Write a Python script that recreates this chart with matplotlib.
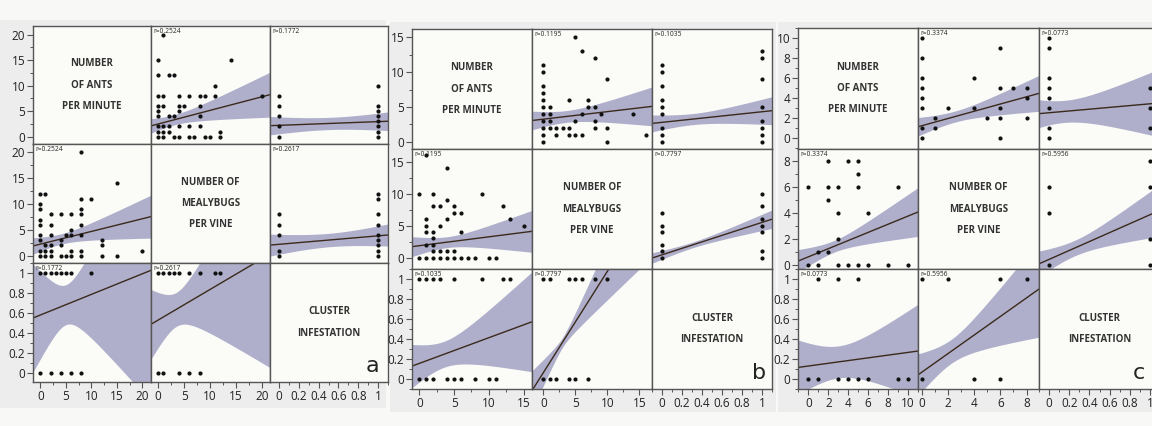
import numpy as np
import matplotlib.pyplot as plt
from matplotlib.patches import Rectangle
from matplotlib.ticker import MultipleLocator

W, H = 1152, 426

# ---------------- data ----------------
names = ["NUMBER\nOF ANTS\nPER MINUTE", "NUMBER OF\nMEALYBUGS\nPER VINE", "CLUSTER\nINFESTATION"]

# panel a
ants_a = [0, 1, 0, 0, 2, 4, 6, 8, 0, 0, 2, 8, 6, 0, 2, 5, 6, 8, 0, 4, 12, 1, 2, 4, 12,
          0, 1, 2, 6, 8, 20, 0, 1, 2, 4, 5, 6, 8, 12, 15, 8, 10, 8, 8, 15]
mealy_a = [12, 12, 10, 9, 8, 8, 8, 8, 7, 6, 6, 6, 5, 4, 4, 4, 4, 4, 3, 3, 3, 2, 2, 2, 2,
           1, 1, 1, 1, 1, 1, 0, 0, 0, 0, 0, 0, 0, 0, 0, 11, 11, 9, 20, 14]
ants_cl_a = [0, 1, 2, 3, 4, 5, 6, 10, 0, 2, 4, 6, 8]
clu_ants_a = [1, 1, 1, 1, 1, 1, 1, 1, 0, 0, 0, 0, 0]
mealy_cl_a = [0, 1, 2, 3, 4, 6, 8, 11, 12, 0, 1, 4, 6, 8]
clu_mealy_a = [1, 1, 1, 1, 1, 1, 1, 1, 1, 0, 0, 0, 0, 0]
r_a = {(0, 1): "0.2524", (0, 2): "0.1772", (1, 2): "0.2617"}
# fit per cell: intercept, slope, band centre, band half-width at centre, band growth
fit_a = {(0, 1): (2.48, 0.266, 3.0, 1.0, 0.231),
         (0, 2): (2.21, 0.73, 0.5, 1.2, 2.3),
         (1, 0): (2.25, 0.245, 4.0, 1.0, 0.228),
         (1, 2): (2.21, 1.64, 0.5, 1.3, 2.84),
         (2, 0): (0.58, 0.0206, 5.0, 0.2, 0.078),
         (2, 1): (0.53, 0.0305, 3.5, 0.17, 0.062)}

# panel b
ants_b = [1, 4, 0, 2, 9, 4, 2, 3, 5, 12, 5, 6, 1, 4, 13, 1, 3, 15, 1, 2, 6, 2, 1, 2,
          2, 3, 4, 5, 0, 1, 2, 3, 4, 5, 6, 7, 8, 10, 11]
mealy_b = [16, 14, 10, 10, 10, 9, 8, 8, 8, 8, 7, 7, 6, 6, 6, 5, 5, 5, 4, 4, 4, 3, 2, 2,
           1, 1, 1, 1, 0, 0, 0, 0, 0, 0, 0, 0, 0, 0, 0]
ants_cl_b = [0, 1, 2, 3, 5, 9, 12, 13, 0, 1, 2, 4, 5, 6, 8, 10, 11]
clu_ants_b = [1, 1, 1, 1, 1, 1, 1, 1, 0, 0, 0, 0, 0, 0, 0, 0, 0]
mealy_cl_b = [0, 1, 4, 5, 6, 8, 10, 0, 1, 2, 4, 5, 7]
clu_mealy_b = [1, 1, 1, 1, 1, 1, 1, 0, 0, 0, 0, 0, 0]
r_b = {(0, 1): "0.1195", (0, 2): "0.1035", (1, 2): "0.7797"}
fit_b = {(0, 1): (3.24, 0.108, 3.5, 0.85, 0.197),
         (0, 2): (2.78, 1.525, 0.3, 0.8, 2.3),
         (1, 0): (1.85, 0.139, 4.0, 0.85, 0.26),
         (1, 2): (0.42, 5.08, 0.3, 0.45, 1.71),
         (2, 0): (0.156, 0.0257, 3.5, 0.13, 0.038),
         (2, 1): (0.066, 0.101, 3.0, 0.05, 0.04)}

# panel c
ants_c = [0, 2, 2, 2, 3, 3, 4, 5, 5, 5, 6, 9, 3, 1, 2, 0, 1, 3, 4, 5, 6, 8, 10]
mealy_c = [6, 8, 6, 5, 6, 4, 8, 8, 7, 6, 4, 6, 2, 1, 1, 0, 0, 0, 0, 0, 0, 0, 0]
ants_cl_c = [1, 3, 5, 0, 1, 3, 4, 5, 6, 9, 10]
clu_ants_c = [1, 1, 1, 0, 0, 0, 0, 0, 0, 0, 0]
mealy_cl_c = [0, 2, 6, 8, 0, 4, 6]
clu_mealy_c = [1, 1, 1, 1, 0, 0, 0]
r_c = {(0, 1): "0.3374", (0, 2): "0.0773", (1, 2): "0.5956"}
fit_c = {(0, 1): (1.27, 0.36, 2.5, 0.55, 0.264),
         (0, 2): (2.56, 0.89, 0.15, 1.1, 3.4),
         (1, 0): (0.64, 0.314, 2.5, 0.45, 0.215),
         (1, 2): (0.44, 3.44, 0.25, 0.6, 2.24),
         (2, 0): (0.13, 0.0136, 3.0, 0.16, 0.055),
         (2, 1): (0.069, 0.0928, 2.2, 0.12, 0.069)}

panels = [
    dict(letter="a", ants=ants_a, mealy=mealy_a, ca=(ants_cl_a, clu_ants_a), cm=(mealy_cl_a, clu_mealy_a),
         r=r_a, fit=fit_a, lims=[(-1.45, 21.7), (-1.4, 21.6), (-0.09, 1.1)],
         ticks=[(5, 2.5), (5, 2.5), (0.2, 0.1)], lx=0.93,
         xs=[33, 151, 270, 388], ys=[26, 144, 263, 382], bg=(0, 20, 386, 408)),
    dict(letter="b", ants=ants_b, mealy=mealy_b, ca=(ants_cl_b, clu_ants_b), cm=(mealy_cl_b, clu_mealy_b),
         r=r_b, fit=fit_b, lims=[(-1.05, 16.2), (-1.8, 17.0), (-0.1, 1.1)],
         ticks=[(5, 2.5), (5, 2.5), (0.2, 0.1)], lx=0.95,
         xs=[412, 532, 652, 772], ys=[29, 149, 269, 389], bg=(390, 22, 776, 412)),
    dict(letter="c", ants=ants_c, mealy=mealy_c, ca=(ants_cl_c, clu_ants_c), cm=(mealy_cl_c, clu_mealy_c),
         r=r_c, fit=fit_c, lims=[(-1.05, 11.0), (-0.3, 8.95), (-0.1, 1.1)],
         ticks=[(2, 1), (2, 1), (0.2, 0.1)], lx=0.88,
         xs=[798, 918, 1039, 1160], ys=[28, 149, 269, 389], bg=(778, 22, 1152, 412)),
]

band_col = "#afafcb"
line_col = "#3b2a1c"
cell_col = "#fbfbf8"
edge_col = "#555555"

plt.rcParams['font.family'] = ['Open Sans', 'DejaVu Sans']
fig = plt.figure(figsize=(W / 100, H / 100), dpi=100, facecolor="#f8f8f6")


def pair(p, i, j):
    # returns x (var j) and y (var i) for a cell
    if {i, j} == {0, 1}:
        v = {0: p["ants"], 1: p["mealy"]}
        return v[j], v[i]
    other, clu = p["ca"] if 0 in (i, j) else p["cm"]
    return (clu, other) if j == 2 else (other, clu)


def fmt(v):
    v = round(float(v), 6)
    if v == int(v):
        return str(int(v))
    return f"{v:.1f}"


for p in panels:
    x0, y0, x1, y1 = p["bg"]
    fig.patches.append(Rectangle((x0 / W, 1 - y1 / H), (x1 - x0) / W, (y1 - y0) / H,
                                 transform=fig.transFigure, facecolor="#ededed",
                                 edgecolor="none", zorder=-5))
    xs, ys = p["xs"], p["ys"]
    for i in range(3):
        for j in range(3):
            l, r_ = xs[j], xs[j + 1]
            t, b = ys[i], ys[i + 1]
            ax = fig.add_axes([l / W, 1 - b / H, (r_ - l) / W, (b - t) / H])
            ax.set_facecolor(cell_col)
            for s in ax.spines.values():
                s.set_color(edge_col)
                s.set_linewidth(1.0)
            ax.tick_params(length=0, labelbottom=False, labelleft=False)
            if i == j:
                ax.text(0.5, 0.5, names[i], transform=ax.transAxes, ha="center", va="center",
                        fontsize=7, fontweight="bold", color="#333333", linespacing=2.3)
                if i == 2:
                    ax.text(p["lx"], 0.05, p["letter"], transform=ax.transAxes, ha="right",
                            va="bottom", fontsize=16, color="#222222", family="DejaVu Sans")
            else:
                x, y = pair(p, i, j)
                b0, b1, xc, h0, k = p["fit"][(i, j)]
                gx = np.linspace(p["lims"][j][0], p["lims"][j][1], 200)
                gy = b0 + b1 * gx
                hw = np.sqrt(h0 ** 2 + (k * (gx - xc)) ** 2)
                ax.fill_between(gx, gy - hw, gy + hw, color=band_col, lw=0, zorder=1)
                ax.plot(gx, gy, color=line_col, lw=1.0, zorder=2)
                ax.scatter(x, y, s=9, color="#111111", zorder=3, linewidths=0)
                rv = p["r"][(min(i, j), max(i, j))]
                ax.text(0.02, 0.985, "r=" + rv, transform=ax.transAxes, ha="left", va="top",
                        fontsize=4.8, color="#222222")
            if j == 0:
                st, mn = p["ticks"][i]
                ax.yaxis.set_major_locator(MultipleLocator(st))
                ax.yaxis.set_minor_locator(MultipleLocator(mn))
                ax.yaxis.set_major_formatter(lambda v, pos: fmt(v))
                ax.tick_params(axis="y", which="major", left=True, length=4, width=0.8,
                               color="#555555", labelleft=True, labelsize=8.5, pad=1.5,
                               labelcolor="#222222")
                ax.tick_params(axis="y", which="minor", left=True, length=2.5, width=0.7,
                               color="#555555")
            else:
                ax.tick_params(axis="y", which="both", left=False)
            if i == 2:
                st, mn = p["ticks"][j]
                ax.xaxis.set_major_locator(MultipleLocator(st))
                ax.xaxis.set_minor_locator(MultipleLocator(mn))
                ax.xaxis.set_major_formatter(lambda v, pos: fmt(v))
                ax.tick_params(axis="x", which="major", bottom=True, length=4, width=0.8,
                               color="#555555", labelbottom=True, labelsize=8.5, pad=2,
                               labelcolor="#222222")
                ax.tick_params(axis="x", which="minor", bottom=True, length=2.5, width=0.7,
                               color="#555555")
            else:
                ax.tick_params(axis="x", which="both", bottom=False)
            ax.set_xlim(p["lims"][j])
            ax.set_ylim(p["lims"][i])

fig.savefig("out.png", dpi=100, facecolor=fig.get_facecolor())
